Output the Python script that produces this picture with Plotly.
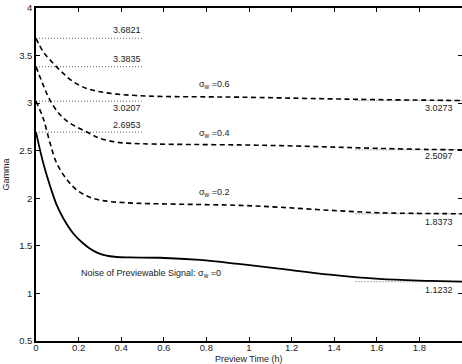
import plotly.graph_objects as go

# ---- data ----
x_s0 = [0, 0.034, 0.066, 0.097, 0.128, 0.175, 0.222, 0.268, 0.315, 0.378, 0.44, 0.58, 0.77, 0.95, 1.14, 1.38, 1.61, 1.85, 2.0]
y_s0 = [2.6953, 2.37, 2.13, 1.93, 1.79, 1.63, 1.525, 1.45, 1.405, 1.383, 1.378, 1.375, 1.352, 1.31, 1.26, 1.197, 1.152, 1.132, 1.1232]

x_s2 = [0, 0.034, 0.066, 0.097, 0.144, 0.19, 0.253, 0.315, 0.409, 0.534, 0.75, 0.955, 1.15, 1.377, 1.611, 1.85, 2.0]
y_s2 = [3.0207, 2.84, 2.58, 2.37, 2.2, 2.09, 2.01, 1.975, 1.955, 1.944, 1.935, 1.926, 1.905, 1.874, 1.848, 1.84, 1.8373]

x_s4 = [0, 0.034, 0.066, 0.112, 0.16, 0.253, 0.3, 0.378, 0.45, 0.55, 0.75, 0.955, 1.15, 1.377, 1.6, 1.85, 2.0]
y_s4 = [3.3835, 3.19, 3.03, 2.88, 2.79, 2.68, 2.63, 2.59, 2.577, 2.57, 2.565, 2.561, 2.553, 2.54, 2.525, 2.513, 2.5097]

x_s6 = [0, 0.034, 0.081, 0.128, 0.175, 0.237, 0.30, 0.378, 0.47, 0.6, 0.8, 0.955, 1.15, 1.377, 1.6, 1.85, 2.0]
y_s6 = [3.6821, 3.54, 3.418, 3.313, 3.225, 3.155, 3.12, 3.095, 3.08, 3.07, 3.066, 3.063, 3.055, 3.045, 3.037, 3.031, 3.0273]

start_vals = [3.6821, 3.3835, 3.0207, 2.6953]
start_labels = ["3.6821", "3.3835", "3.0207", "2.6953"]
start_label_y = [3.768, 3.463, 2.95, 2.768]
end_vals = [3.0273, 2.5097, 1.8373, 1.1232]
end_labels = ["3.0273", "2.5097", "1.8373", "1.1232"]
end_label_y = [2.95, 2.442, 1.75, 1.039]

sigma_labels = ["σ<sub>w</sub> =0.6", "σ<sub>w</sub> =0.4", "σ<sub>w</sub> =0.2",
                "Noise of Previewable Signal: σ<sub>w</sub> =0"]
sigma_label_x = [0.834, 0.834, 0.834, 0.539]
sigma_label_y = [3.2, 2.684, 2.066, 1.214]

FONT = "Liberation Sans, Arial, sans-serif"
TXT = "#222222"
DASH = "5px,3.5px"
DOT = "1px,2px"

fig = go.Figure()

# dotted reference lines
for v in start_vals:
    fig.add_trace(go.Scatter(x=[0, 0.5], y=[v, v], mode="lines",
                             line=dict(color="#666666", width=1, dash=DOT),
                             showlegend=False, hoverinfo="skip"))
for v in end_vals:
    fig.add_trace(go.Scatter(x=[1.5, 2.0], y=[v, v], mode="lines",
                             line=dict(color="#666666", width=1, dash=DOT),
                             showlegend=False, hoverinfo="skip"))

for xs, ys in [(x_s6, y_s6), (x_s4, y_s4), (x_s2, y_s2)]:
    fig.add_trace(go.Scatter(x=xs, y=ys, mode="lines", line_shape="spline",
                             line=dict(color="black", width=1.6, dash=DASH),
                             showlegend=False))
fig.add_trace(go.Scatter(x=x_s0, y=y_s0, mode="lines", line_shape="spline",
                         line=dict(color="black", width=1.8),
                         showlegend=False))

for t, yv in zip(start_labels, start_label_y):
    fig.add_annotation(x=0.5, y=yv, text=t, showarrow=False, xanchor="right",
                       yanchor="middle", font=dict(family=FONT, size=9, color=TXT))
for t, yv in zip(end_labels, end_label_y):
    fig.add_annotation(x=1.967, y=yv, text=t, showarrow=False, xanchor="right",
                       yanchor="middle", font=dict(family=FONT, size=9, color=TXT))
for t, xv, yv in zip(sigma_labels, sigma_label_x, sigma_label_y):
    fig.add_annotation(x=xv, y=yv, text=t, showarrow=False, xanchor="center",
                       yanchor="middle", font=dict(family=FONT, size=9, color=TXT))

# x-axis title placed precisely below the tick labels
fig.add_annotation(x=1.0, xref="x", y=0, yref="paper", yanchor="top", yshift=-11,
                   text="Preview Time (h)", showarrow=False,
                   font=dict(family=FONT, size=9, color=TXT))

axis_common = dict(showline=True, linecolor="black", linewidth=1.5, mirror="ticks",
                   ticks="inside", ticklen=4, tickwidth=1, tickcolor="black",
                   showgrid=False, zeroline=False, automargin=False,
                   tickfont=dict(family=FONT, size=9.5, color=TXT))

fig.update_xaxes(range=[0, 2], dtick=0.2, tick0=0, ticklabelstandoff=-3, **axis_common)
fig.update_yaxes(range=[0.5, 4], dtick=0.5, tick0=0.5,
                 title=dict(text="Gamma", font=dict(family=FONT, size=9, color=TXT), standoff=8),
                 ticklabelstandoff=0, **axis_common)

fig.update_layout(width=462, height=364, margin=dict(l=36, r=0, t=8, b=23),
                  paper_bgcolor="white", plot_bgcolor="white")

fig.write_html("out.html", config={"displayModeBar": False},
               post_script="document.body.style.margin='0';document.body.style.overflow='hidden';")
